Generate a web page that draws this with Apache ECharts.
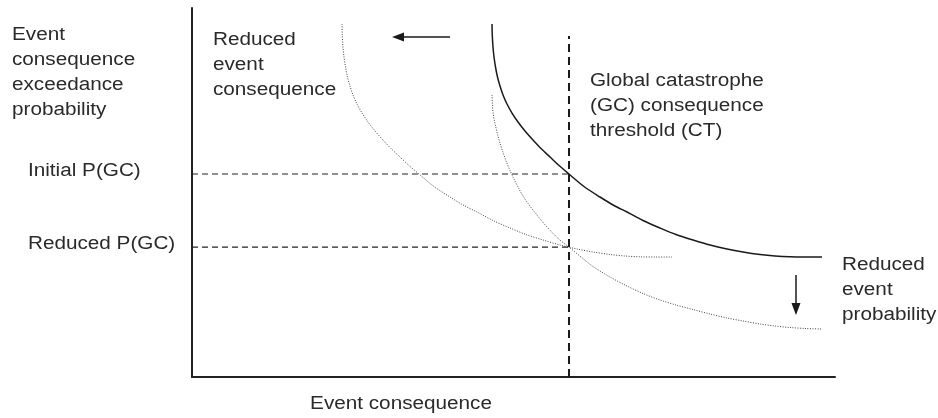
<!DOCTYPE html>
<html>
<head>
<meta charset="utf-8">
<script src="https://cdn.jsdelivr.net/npm/echarts@6/dist/echarts.min.js"></script>
<style>
html,body{margin:0;padding:0;background:#fff;}
#chart{width:938px;height:418px;}
</style>
</head>
<body>
<div id="chart"></div>
<script>
// ---- data (abstract units: consequence 0..100, exceedance probability 0..100) ----
var initialCurveX = [46.66, 46.70, 46.81, 46.97, 47.20, 47.51, 47.90, 48.37, 48.99, 49.77, 50.70, 51.79, 53.03, 54.28, 55.68, 57.08, 58.63, 60.96, 63.45, 65.63, 67.65, 70.14, 72.78, 75.27, 77.92, 80.56, 83.20, 85.69, 88.34, 90.67, 93.00, 95.49, 97.98];
var initialCurveY = [95.66, 92.68, 89.43, 86.72, 84.01, 81.30, 78.86, 76.42, 73.98, 71.54, 69.11, 66.67, 64.23, 61.92, 59.62, 57.32, 55.01, 51.63, 48.78, 46.48, 44.72, 42.41, 40.38, 38.62, 37.13, 35.77, 34.69, 33.88, 33.20, 32.79, 32.57, 32.52, 32.52];

var reducedConsequenceX = [23.33, 23.37, 23.48, 23.64, 23.87, 24.18, 24.57, 25.04, 25.66, 26.44, 27.37, 28.46, 29.70, 30.95, 32.35, 33.75, 35.30, 37.63, 40.12, 42.30, 44.32, 46.81, 49.45, 51.94, 54.59, 57.23, 59.87, 62.36, 65.01, 67.34, 69.67, 72.16, 74.65];
var reducedConsequenceY = [95.66, 92.68, 89.43, 86.72, 84.01, 81.30, 78.86, 76.42, 73.98, 71.54, 69.11, 66.67, 64.23, 61.92, 59.62, 57.32, 55.01, 51.63, 48.78, 46.48, 44.72, 42.41, 40.38, 38.62, 37.13, 35.77, 34.69, 33.88, 33.20, 32.79, 32.57, 32.52, 32.52];

var reducedProbabilityX = [46.66, 46.72, 46.84, 47.01, 47.25, 47.54, 47.90, 48.37, 48.91, 49.46, 49.92, 50.70, 51.48, 52.26, 53.03, 54.28, 55.68, 57.08, 58.63, 60.50, 62.36, 65.01, 67.65, 70.14, 72.78, 75.27, 77.92, 80.56, 83.20, 85.69, 88.34, 90.67, 93.00, 95.49, 97.98];
var reducedProbabilityY = [76.42, 73.71, 71.41, 69.65, 67.75, 65.58, 63.41, 60.84, 58.27, 55.96, 54.20, 51.49, 49.05, 47.02, 45.26, 42.55, 39.76, 37.32, 35.20, 32.52, 29.95, 27.10, 24.66, 22.63, 20.87, 19.51, 18.29, 17.07, 15.99, 15.18, 14.36, 13.82, 13.41, 13.14, 13.01];

var thresholdCT = 58.63;
var thresholdTop = 92.4;
var initialPGC = 55.01;
var reducedPGC = 35.2;

var leftArrowFrom = [40.12, 92.14];
var leftArrowTo = [32.04, 92.14];
var downArrowFrom = [93.93, 27.64];
var downArrowTo = [93.93, 18.43];

// ---- text ----
var yTitleLines = ['Event', 'consequence', 'exceedance', 'probability'];
var xTitle = 'Event consequence';
var reducedConsLines = ['Reduced', 'event', 'consequence'];
var gcLines = ['Global catastrophe', '(GC) consequence', 'threshold (CT)'];
var reducedProbLines = ['Reduced', 'event', 'probability'];
var initialLabel = 'Initial P(GC)';
var reducedLabel = 'Reduced P(GC)';

function zip(xs, ys) { return xs.map(function (x, i) { return [x, ys[i]]; }); }

var FONT = 'Liberation Sans, Arial, Helvetica, sans-serif';
var TXT = '#2a2a2a';
var SX = 1.15;

function textEl(str, x, y, align) {
  return {
    type: 'text', x: x, y: y, scaleX: SX, silent: true,
    style: { text: str, x: 0, y: 0, fill: TXT, font: '18px ' + FONT, textAlign: align || 'left', textVerticalAlign: 'middle' }
  };
}
function block(lines, x, y0, step) {
  return lines.map(function (s, i) { return textEl(s, x, y0 + i * step); });
}

var graphics = []
  .concat(block(yTitleLines, 12, 35.5, 25))
  .concat(block(reducedConsLines, 213, 40.5, 25))
  .concat(block(gcLines, 590, 81, 25))
  .concat(block(reducedProbLines, 842, 265.5, 25))
  .concat([textEl(initialLabel, 28, 171.5), textEl(reducedLabel, 28, 244), textEl(xTitle, 401, 404.5, 'center')]);

var chart = echarts.init(document.getElementById('chart'), null, { renderer: 'canvas' });
chart.setOption({
  animation: false,
  backgroundColor: '#fff',
  grid: { left: 192, right: 103, top: 8, bottom: 41 },
  xAxis: {
    type: 'value', min: 0, max: 100,
    axisLine: { show: true, onZero: false, lineStyle: { color: '#222', width: 2 } },
    axisTick: { show: false }, axisLabel: { show: false }, splitLine: { show: false }
  },
  yAxis: {
    type: 'value', min: 0, max: 100,
    axisLine: { show: true, onZero: false, lineStyle: { color: '#222', width: 2 } },
    axisTick: { show: false }, axisLabel: { show: false }, splitLine: { show: false }
  },
  series: [
    {
      type: 'line', name: 'Initial', data: zip(initialCurveX, initialCurveY),
      smooth: 0.3, showSymbol: false, symbol: 'none', silent: true,
      lineStyle: { color: '#1a1a1a', width: 1.5 },
      markLine: {
        silent: true, symbol: ['none', 'triangle'], symbolSize: [9, 12], label: { show: false },
        lineStyle: { color: '#1a1a1a', width: 1.5, type: 'solid' },
        data: [
          [{ coord: leftArrowFrom }, { coord: leftArrowTo }],
          [{ coord: downArrowFrom }, { coord: downArrowTo }]
        ]
      }
    },
    {
      type: 'line', name: 'Reduced consequence', data: zip(reducedConsequenceX, reducedConsequenceY),
      smooth: 0.3, showSymbol: false, symbol: 'none', silent: true,
      lineStyle: { color: '#444', width: 1, type: [1, 1.5] }
    },
    {
      type: 'line', name: 'Reduced probability', data: zip(reducedProbabilityX, reducedProbabilityY),
      smooth: 0.3, showSymbol: false, symbol: 'none', silent: true,
      lineStyle: { color: '#444', width: 1, type: [1, 1.5] }
    },
    {
      type: 'line', name: 'CT', data: [[thresholdCT, 0], [thresholdCT, thresholdTop]],
      showSymbol: false, symbol: 'none', silent: true,
      lineStyle: { color: '#1a1a1a', width: 2, type: [8, 5] }
    },
    {
      type: 'line', name: 'Initial P', data: [[0, initialPGC], [thresholdCT, initialPGC]],
      showSymbol: false, symbol: 'none', silent: true,
      lineStyle: { color: '#222', width: 1.2, type: [6, 4] }
    },
    {
      type: 'line', name: 'Reduced P', data: [[0, reducedPGC], [thresholdCT, reducedPGC]],
      showSymbol: false, symbol: 'none', silent: true,
      lineStyle: { color: '#222', width: 1.2, type: [6, 4] }
    }
  ],
  graphic: graphics
});
</script>
</body>
</html>
